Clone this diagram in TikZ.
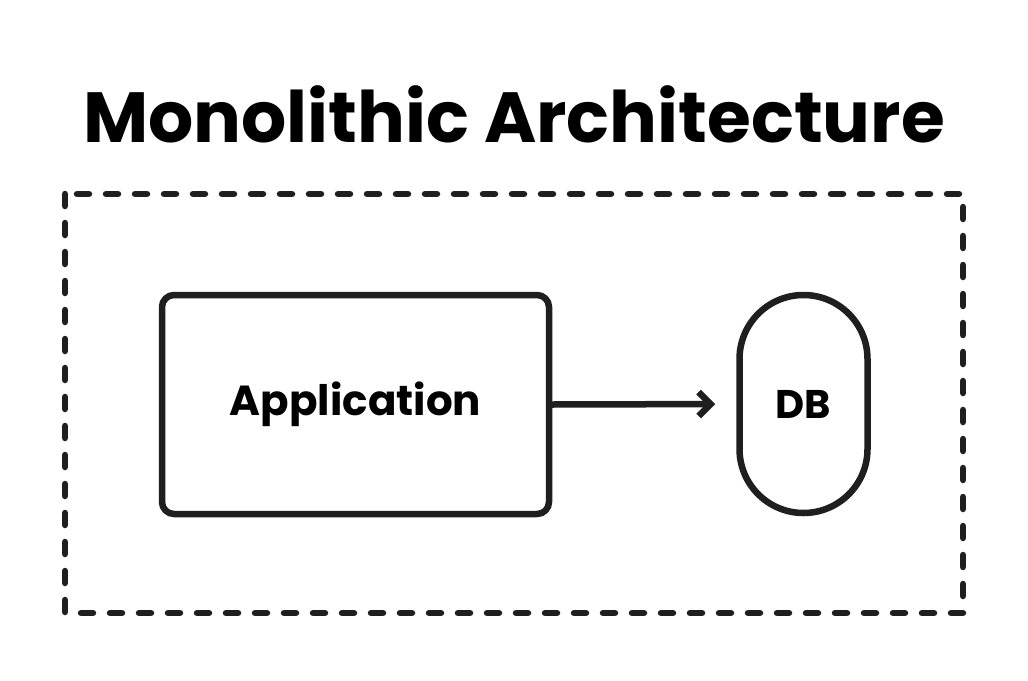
\documentclass[tikz,border=0pt]{standalone}
\usepackage{fontspec}
\setmainfont{Poppins}
\usetikzlibrary{arrows.meta}
\tikzset{
  sketch/.style={draw=black!88, line width=6.5pt, line join=round, line cap=round},
  appbox/.style={sketch, rectangle, rounded corners=12pt, minimum width=387pt, minimum height=219pt},
  dbpill/.style={sketch, rectangle, rounded corners=64pt, minimum width=128pt, minimum height=218pt},
}
\begin{document}
\begin{tikzpicture}[x=1pt,y=-1pt]
\useasboundingbox[fill=white] (0,0) rectangle (1028,680);
\node      (title)     at (514,114) {\fontsize{71}{80}\selectfont\bfseries Monolithic Architecture};
\draw[sketch,dash pattern=on 12pt off 17pt] (65,194) rectangle (963,613);% frame
\node[appbox] (app)    at (355.5,404.5) {\fontsize{42}{48}\selectfont\bfseries Application};
\node[dbpill] (db)     at (803.5,404) {\fontsize{40}{46}\selectfont\bfseries DB};
\draw[sketch,-{Straight Barb[length=12pt,width=24pt,line width=6.5pt]},shorten >=21pt] (app.east) -- (db.west);
\end{tikzpicture}
\end{document}
